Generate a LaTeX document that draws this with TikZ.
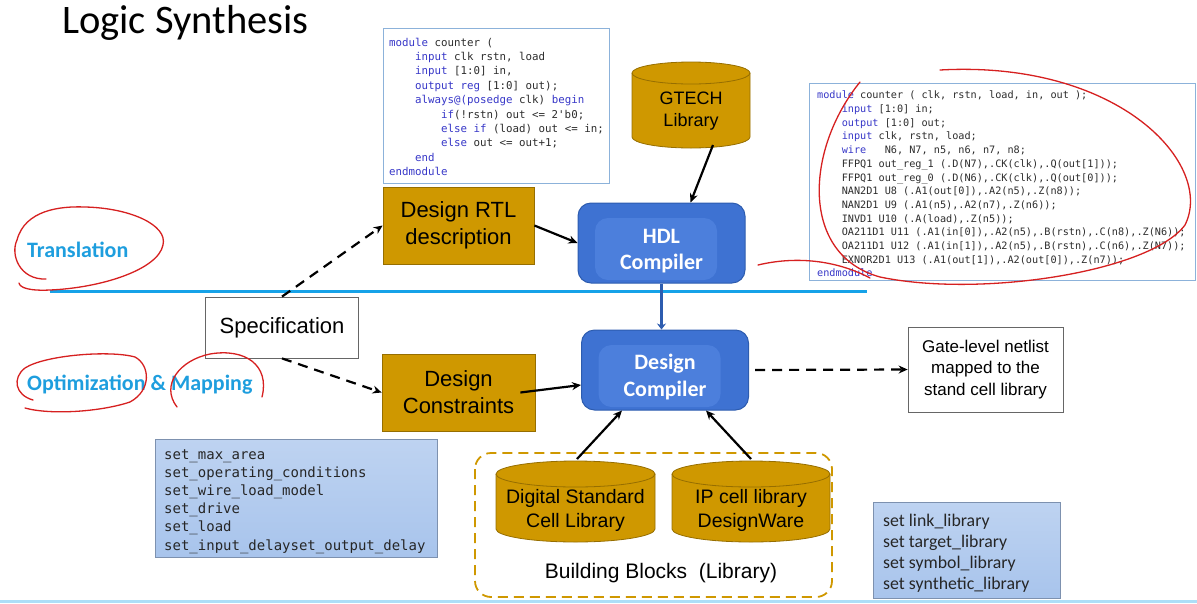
\documentclass[tikz,border=0pt]{standalone}
\usepackage{fontspec}
\setmainfont{Liberation Sans}
\setmonofont{DejaVu Sans Mono}
\newfontfamily\calfont{Carlito}
\usetikzlibrary{arrows.meta,positioning}

\definecolor{gold}{RGB}{207,152,0}
\definecolor{golddark}{RGB}{150,110,0}
\definecolor{dcblue}{RGB}{62,114,210}
\definecolor{dcinner}{RGB}{76,127,220}
\definecolor{dcborder}{RGB}{45,92,175}
\definecolor{skyline}{RGB}{22,162,232}
\definecolor{phasetext}{RGB}{30,158,222}
\definecolor{kw}{RGB}{55,55,200}
\definecolor{codegray}{RGB}{45,45,45}
\definecolor{codeframe}{RGB}{140,178,218}
\definecolor{cmdfill}{RGB}{168,196,236}
\definecolor{cmdtop}{RGB}{190,211,241}
\definecolor{cmdframe}{RGB}{125,145,175}
\definecolor{ink}{RGB}{214,32,32}

\newcommand\kw[1]{\textcolor{kw}{#1}}
\newcommand\ind{\hspace*{2.408em}}
%% cylinder: left, right, top, bottom, ry (pixels)
\newcommand\drum[5]{%
  \pgfmathsetmacro\rx{(#2-#1)/2}%
  \filldraw[drumbody] (#1,-#3-#5) -- (#1,-#4+#5)
    arc[start angle=180,end angle=360,x radius=\rx pt,y radius=#5pt]
    -- (#2,-#3-#5)
    arc[start angle=0,end angle=180,x radius=\rx pt,y radius=#5pt] -- cycle;
  \draw[drumbody,fill=none] (#1,-#3-#5)
    arc[start angle=180,end angle=360,x radius=\rx pt,y radius=#5pt];}

\tikzset{
  drumbody/.style={draw=golddark,fill=gold,line width=0.8pt},
  drumtext/.style={align=center,font=\fontsize{19.5}{24}\selectfont},
  goldbox/.style={draw=golddark,fill=gold,line width=0.8pt,align=center,
    inner sep=0pt,font=\fontsize{22}{27}\selectfont},
  whitebox/.style={draw=black!60,fill=white,line width=0.8pt,align=center,inner sep=0pt},
  compiler/.style={draw=dcborder,fill=dcblue,rounded corners=13pt,line width=1pt,
    minimum width=167pt,minimum height=80pt,inner sep=0pt,
    path picture={\fill[dcinner]
      ([shift={(17pt,-15pt)}]path picture bounding box.north west) rectangle
      ([shift={(-28pt,3pt)}]path picture bounding box.south east);}},
  comptext/.style={text=white,align=center,font=\calfont\bfseries\fontsize{22}{26.5}\selectfont},
  phase/.style={text=phasetext,font=\calfont\bfseries\fontsize{22}{26}\selectfont,inner sep=0pt},
  code/.style={text=codegray,align=left,inner sep=0pt,anchor=north west},
  cmdbox/.style={draw=cmdframe,top color=cmdtop,bottom color=cmdfill,line width=0.8pt},
  cmdtext/.style={text=black!85,inner sep=0pt,anchor=base west,font=\ttfamily\fontsize{14}{18}\selectfont},
  libtext/.style={text=black!85,inner sep=0pt,anchor=base west,font=\calfont\fontsize{17.8}{21}\selectfont},
  solid arrow/.style={line width=2.2pt,-{Stealth[length=9pt,width=8pt]}},
  dashed arrow/.style={solid arrow,dash pattern=on 10pt off 7pt},
  blue arrow/.style={draw=dcborder,line width=3pt,-{Stealth[length=6pt,width=9pt]}},
  inkline/.style={draw=ink,line width=1.3pt,line cap=round},
}

\begin{document}
\begin{tikzpicture}[x=1pt,y=1pt]
    \useasboundingbox (0,0) rectangle (1197,-603);
    %% title
    \node[anchor=base west,inner sep=0pt,font=\calfont\fontsize{40.5}{46}\selectfont] (title) at (62,-33) {Logic Synthesis};
    %% phase labels and divider
    \node[phase,anchor=base west] (trans) at (27,-257) {Translation};
    \node[phase,anchor=base west] (optim) at (27,-390) {Optimization \& Mapping};
    \draw[skyline,line width=3pt] (50,-291) -- (867,-291);
    %% RTL code
    \draw[draw=codeframe,fill=white,line width=0.9pt] (383,-28) rectangle (609,-183);
    \node[code,font=\ttfamily\fontsize{10.8}{14.4}\selectfont] (rtlcode) at (389,-37.6) {%
      \kw{module} counter (\\
      \ind\kw{input} clk rstn, load\\
      \ind\kw{input} [1:0] in,\\
      \ind\kw{output reg} [1:0] out);\\
      \ind\kw{always@(posedge} clk) \kw{begin}\\
      \ind\ind\kw{if}(!rstn) out <= 2'b0;\\
      \ind\ind\kw{else if} (load) out <= in;\\
      \ind\ind\kw{else} out <= out+1;\\
      \ind\kw{end}\\
      \kw{endmodule}};
    %% gate-level netlist code
    \draw[draw=codeframe,fill=white,line width=0.9pt] (809,-83) rectangle (1195,-280);
    \node[code,font=\ttfamily\fontsize{10.2}{13.7}\selectfont] (netcode) at (817,-90.8) {%
      \kw{module} counter ( clk, rstn, load, in, out );\\
      \ind\kw{input} [1:0] in;\\
      \ind\kw{output} [1:0] out;\\
      \ind\kw{input} clk, rstn, load;\\
      \ind\kw{wire}\ \ \ N6, N7, n5, n6, n7, n8;\\
      \ind FFPQ1 out\_reg\_1 (.D(N7),.CK(clk),.Q(out[1]));\\
      \ind FFPQ1 out\_reg\_0 (.D(N6),.CK(clk),.Q(out[0]));\\
      \ind NAN2D1 U8 (.A1(out[0]),.A2(n5),.Z(n8));\\
      \ind NAN2D1 U9 (.A1(n5),.A2(n7),.Z(n6));\\
      \ind INVD1 U10 (.A(load),.Z(n5));\\
      \ind OA211D1 U11 (.A1(in[0]),.A2(n5),.B(rstn),.C(n8),.Z(N6));\\
      \ind OA211D1 U12 (.A1(in[1]),.A2(n5),.B(rstn),.C(n6),.Z(N7));\\
      \ind EXNOR2D1 U13 (.A1(out[1]),.A2(out[0]),.Z(n7));\\
      \kw{endmodule}};
    %% GTECH library
    \drum{632}{750}{62}{148}{11}
    \node[drumtext,font=\fontsize{18}{22}\selectfont] (gtech) at (691,-111) {GTECH\\Library};
    \coordinate (gtech-out) at (713,-145);
    %% boxes
    \node[goldbox,minimum width=151pt,minimum height=77pt] (rtl) at (458.5,-225.5) {Design RTL\\description};
    \node[goldbox,minimum width=153pt,minimum height=77pt] (con) at (458.5,-392.5) {Design\\Constraints};
    \node[whitebox,minimum width=153pt,minimum height=61pt,font=\fontsize{22}{26}\selectfont] (spec) at (282,-327.5) {Specification};
    \node[whitebox,minimum width=155pt,minimum height=85pt,font=\fontsize{17}{21.5}\selectfont] (gate) at (985.5,-369.5) {Gate-level netlist\\mapped to the\\stand cell library};
    %% compilers
    \node[compiler] (hdl) at (661.5,-243) {};
    \node[comptext] (hdltext) at (661.5,-251) {HDL\\Compiler};
    \node[compiler] (dc) at (665,-370) {};
    \node[comptext] (dctext) at (665,-377) {Design\\Compiler};
    \draw[blue arrow] (hdl.south) -- (hdl.south |- dc.north);
    %% building blocks
    \draw[draw=gold,line width=1.8pt,dash pattern=on 10pt off 6pt,rounded corners=16pt] (475,-453) rectangle (832,-597);
    \drum{496}{655}{461}{542}{13}
    \drum{672}{830}{461}{542}{13}
    \node[drumtext] (stdlib) at (575.5,-510) {Digital Standard\\Cell Library};
    \node[drumtext] (iplib) at (751,-510) {IP cell library\\DesignWare};
    \coordinate (std-out) at (577,-459);
    \coordinate (ip-out) at (751,-459);
    \node[font=\fontsize{21}{25}\selectfont] (blocks) at (661,-573) {Building Blocks\ \ (Library)};
    %% command boxes
    \draw[cmdbox] (155,-439) rectangle (437,-557);
    \foreach \cmd [count=\i] in {set\_max\_area,set\_operating\_conditions,set\_wire\_load\_model,
        set\_drive,set\_load,set\_input\_delayset\_output\_delay}
      \node[cmdtext] (area\i) at (164,{-459-18.2*(\i-1)}) {\cmd};
    \draw[cmdbox] (873,-502) rectangle (1060,-598);
    \foreach \lib [count=\i] in {link,target,symbol,synthetic}
      \node[libtext] (lib\i) at (883,{-526-21*(\i-1)}) {set \lib\_library};
    %% connectors
    \draw[dashed arrow] (spec.north) -- (rtl.west);
    \draw[dashed arrow] (spec.south) -- (con.west);
    \draw[solid arrow] (rtl.east) -- (hdl.west);
    \draw[solid arrow] ([xshift=-15pt]con.east) -- ([yshift=-15pt]dc.west);
    \draw[dashed arrow] ([xshift=6pt]dc.east) -- (gate.west);
    \draw[solid arrow] (gtech-out) -- ([xshift=29pt]hdl.north);
    \draw[solid arrow] (std-out) -- ([xshift=-43pt]dc.south);
    \draw[solid arrow] (ip-out) -- ([xshift=41pt]dc.south);
    %% red ink
    \draw[inkline] (46,-279) .. controls (20,-280) and (10,-255) .. (17,-240)
      .. controls (25,-210) and (60,-206) .. (85,-207)
      .. controls (130,-208) and (168,-225) .. (163,-245)
      .. controls (158,-270) and (100,-288) .. (50,-290)
      .. controls (30,-291) and (20,-288) .. (19,-283);
    \draw[inkline] (33,-400) .. controls (15,-395) and (12,-378) .. (25,-368)
      .. controls (45,-355) and (110,-350) .. (135,-357)
      .. controls (150,-365) and (152,-390) .. (130,-402)
      .. controls (100,-412) and (50,-415) .. (25,-408);
    \draw[inkline] (177,-407) .. controls (160,-385) and (180,-360) .. (210,-354)
      .. controls (245,-348) and (270,-365) .. (262,-397);
    \draw[inkline] (860,-82) .. controls (805,-150) and (800,-255) .. (880,-277)
      .. controls (980,-298) and (1150,-272) .. (1185,-225)
      .. controls (1215,-165) and (1120,-60) .. (940,-70);
    \draw[inkline] (758,-265) .. controls (800,-255) and (840,-262) .. (870,-278);
    %% slide edge
    \fill[skyline!35] (0,-600) rectangle (1197,-603);
\end{tikzpicture}
\end{document}
